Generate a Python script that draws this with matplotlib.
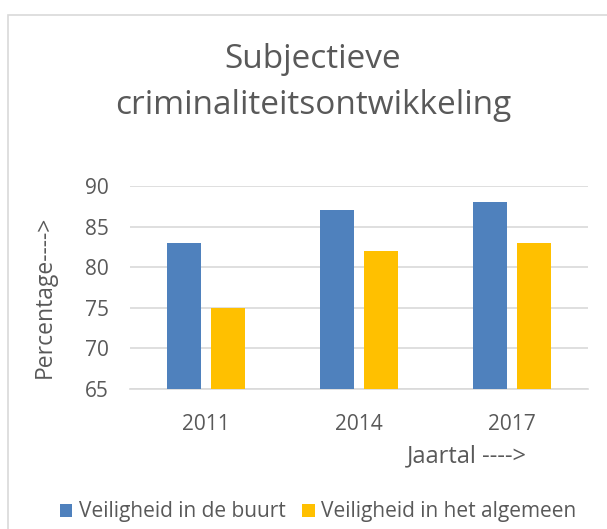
import matplotlib
matplotlib.use("Agg")
import matplotlib.pyplot as plt
import numpy as np
from matplotlib.patches import Rectangle

# data
years = ["2011", "2014", "2017"]
buurt = [83, 87, 88]
algemeen = [75, 82, 83]
series_names = ["Veiligheid in de buurt", "Veiligheid in het algemeen"]
yticks = [65, 70, 75, 80, 85, 90]

blue = "#4F81BD"
gold = "#FFC000"
grey_text = "#595959"
grid = "#D9D9D9"

plt.rcParams['font.family'] = ['Open Sans', 'DejaVu Sans']

fig = plt.figure(figsize=(6.07, 5.29), dpi=100)
fig.patch.set_facecolor("white")

# chart-area border (runs off the right and bottom edges like the screenshot)
fig.patches.append(Rectangle((8 / 607, -0.05), 1.2, 1 - 15 / 529 + 0.05,
                             transform=fig.transFigure, fill=False,
                             edgecolor=grid, linewidth=1.2))

ax = fig.add_axes([130 / 607, 1 - 389 / 529, 458 / 607, 203 / 529])

x = np.arange(len(years))
w = 0.223
ax.bar(x - 0.144, np.array(buurt) - 65, w, bottom=65, color=blue,
       label=series_names[0], zorder=3)
ax.bar(x + 0.144, np.array(algemeen) - 65, w, bottom=65, color=gold,
       label=series_names[1], zorder=3)

ax.set_xlim(-0.5, 2.5)
ax.set_ylim(65, 90)
ax.set_yticks(yticks)
ax.set_xticks(x)
ax.set_xticklabels(years)
ax.yaxis.grid(True, color=grid, linewidth=1.2, zorder=0)
ax.tick_params(axis="both", length=0, labelsize=15, colors=grey_text)
ax.tick_params(axis="x", pad=18)
ax.tick_params(axis="y", pad=15)
for s in ax.spines.values():
    s.set_visible(False)
ax.spines["bottom"].set_visible(True)
ax.spines["bottom"].set_color(grid)
ax.spines["bottom"].set_linewidth(1.2)

fig.text(313 / 607, 1 - 60 / 529, "Subjectieve", ha="center", va="center",
         fontsize=24, color=grey_text)
fig.text(313 / 607, 1 - 106 / 529, "criminaliteitsontwikkeling", ha="center",
         va="center", fontsize=24, color=grey_text)

fig.text(45 / 607, 1 - 297 / 529, "Percentage---->", rotation=90,
         ha="center", va="center", fontsize=16.5, color=grey_text)
fig.text(467 / 607, 1 - 456 / 529, "Jaartal ---->", ha="center", va="center",
         fontsize=17, color=grey_text)

fig.legend(loc="center", bbox_to_anchor=(318 / 607, 1 - 512 / 529),
           ncol=2, frameon=False, fontsize=15, labelcolor=grey_text,
           handlelength=0.6, handleheight=0.6, handletextpad=0.3,
           columnspacing=0.8)

fig.savefig("out.png", dpi=100)
